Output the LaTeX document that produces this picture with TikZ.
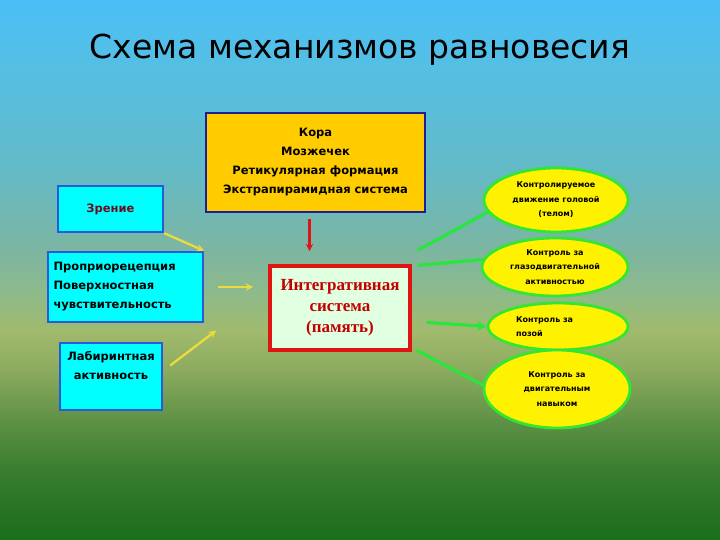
\documentclass[tikz,border=0pt]{standalone}
\usepackage{fontspec}
\setmainfont{DejaVu Sans}
\newfontfamily\integfont{Liberation Serif}
\usepackage{xcolor}
\usetikzlibrary{shapes.geometric, arrows, positioning}

\definecolor{senseblue}{RGB}{40,90,220}
\definecolor{sensefill}{RGB}{0,255,255}
\definecolor{cortexfill}{RGB}{255,204,0}
\definecolor{cortexdraw}{RGB}{30,30,150}
\definecolor{integfill}{RGB}{225,255,225}
\definecolor{integred}{RGB}{225,20,20}
\definecolor{integtext}{RGB}{195,0,0}
\definecolor{ctrlgreen}{RGB}{50,230,50}
\definecolor{lineyellow}{RGB}{235,220,60}
\definecolor{linegreen}{RGB}{40,230,60}
\definecolor{maroon}{RGB}{110,10,30}
% slide background, top to bottom
\definecolor{bga}{rgb}{0.29,0.75,0.96}
\definecolor{bgb}{rgb}{0.33,0.75,0.90}
\definecolor{bgc}{rgb}{0.39,0.73,0.78}
\definecolor{bgd}{rgb}{0.49,0.71,0.63}
\definecolor{bge}{rgb}{0.55,0.73,0.55}
\definecolor{bgf}{rgb}{0.63,0.73,0.43}
\definecolor{bgg}{rgb}{0.55,0.67,0.37}
\definecolor{bgh}{rgb}{0.37,0.57,0.27}
\definecolor{bgi}{rgb}{0.22,0.49,0.18}
\definecolor{bgj}{rgb}{0.10,0.43,0.10}

\begin{document}
\begin{tikzpicture}[x=1pt, y=-1pt,
yarr/.style={->, >=stealth, line width=2.3pt, lineyellow}, garr/.style={line width=3.2pt, linegreen},
garrh/.style={->, >=stealth, line width=3.2pt, linegreen}, rarr/.style={->, >=stealth, line width=2.2pt,
integred}, sense/.style={rectangle, draw=senseblue, line width=2.4pt, fill=sensefill, align=center,
font=\bfseries\fontsize{11.5}{19}\selectfont}, cortex/.style={rectangle, draw=cortexdraw, line
width=2.4pt, fill=cortexfill, minimum width=219pt, minimum height=99pt, align=center,
font=\bfseries\fontsize{11.5}{19}\selectfont}, integ/.style={rectangle, draw=integred, line
width=3.2pt, fill=integfill, minimum width=140pt, minimum height=84pt, align=center,
text=integtext, font=\integfont\bfseries\fontsize{17}{21}\selectfont}, ctrl/.style={ellipse,
draw=ctrlgreen, line width=2.8pt, fill=yellow, inner sep=0pt, align=center,
font=\bfseries\fontsize{8}{14.5}\selectfont} ]
\useasboundingbox (0,0) rectangle (720,540);
\foreach \ya/\yb/\ca/\cb in {0/60/bga/bgb, 60/170/bgb/bgc, 170/250/bgc/bgd, 250/290/bgd/bge,
290/330/bge/bgf, 330/370/bgf/bgg, 370/420/bgg/bgh, 420/470/bgh/bgi, 470/540/bgi/bgj}
\shade[top color=\ca, bottom color=\cb] (0,\ya) rectangle (720,\yb+1);
\node[font=\fontsize{33}{38}\selectfont] (title) at (360,50) {Схема механизмов равновесия};
% sensory inputs
\node[sense, minimum width=105pt, minimum height=46pt, text=maroon] (vis) at (110.5,209) {Зрение};
\node[sense, minimum width=155pt, minimum height=70pt, text width=144pt, align=left] (prop) at (125.5,287)
{Проприорецепция\\Поверхностная\\чувствительность};
\node[sense, minimum width=102pt, minimum height=67pt, text depth=22pt] (lab) at (111,376.5)
{Лабиринтная\\активность};
% centres
\node[cortex] (cortex) at (315.5,162.5) {Кора\\Мозжечек\\Ретикулярная формация\\Экстрапирамидная система};
\node[integ] (integ) at (340,308) {Интегративная\\система\\(память)};
% outputs
\node[ctrl, minimum width=144pt, minimum height=64pt] (c1) at (556,200)
{Контролируемое\\движение головой\\(телом)};
\node[ctrl, minimum width=146pt, minimum height=58pt] (c2) at (555,267)
{Контроль за\\глазодвигательной\\активностью};
\node[ctrl, minimum width=140pt, minimum height=47pt, text width=84pt, align=left] (c3) at (558,326.5)
{Контроль за\\позой};
\node[ctrl, minimum width=146pt, minimum height=78pt] (c4) at (557,389)
{Контроль за\\двигательным\\навыком};
\draw[yarr] (vis.south east) -- (prop.north east);
\draw[yarr] ([xshift=14]prop.east) -- ([xshift=49]prop.east);
\draw[yarr] ([shift={(7,-11)}]lab.east) -- ([shift={(53,-46)}]lab.east);
\draw[rarr] ([shift={(-6,6)}]cortex.south) -- ([shift={(-6,38)}]cortex.south);
\draw[garr] ([shift={(6,-14)}]integ.north east) -- (c1.190);
\draw[garr] ([shift={(6,1)}]integ.north east) -- (c2.174);
\draw[garrh] ([shift={(15,58)}]integ.north east) -- (c3.west);
\draw[garr] ([shift={(5,86)}]integ.north east) -- (c4.177);
\end{tikzpicture}
\end{document}
